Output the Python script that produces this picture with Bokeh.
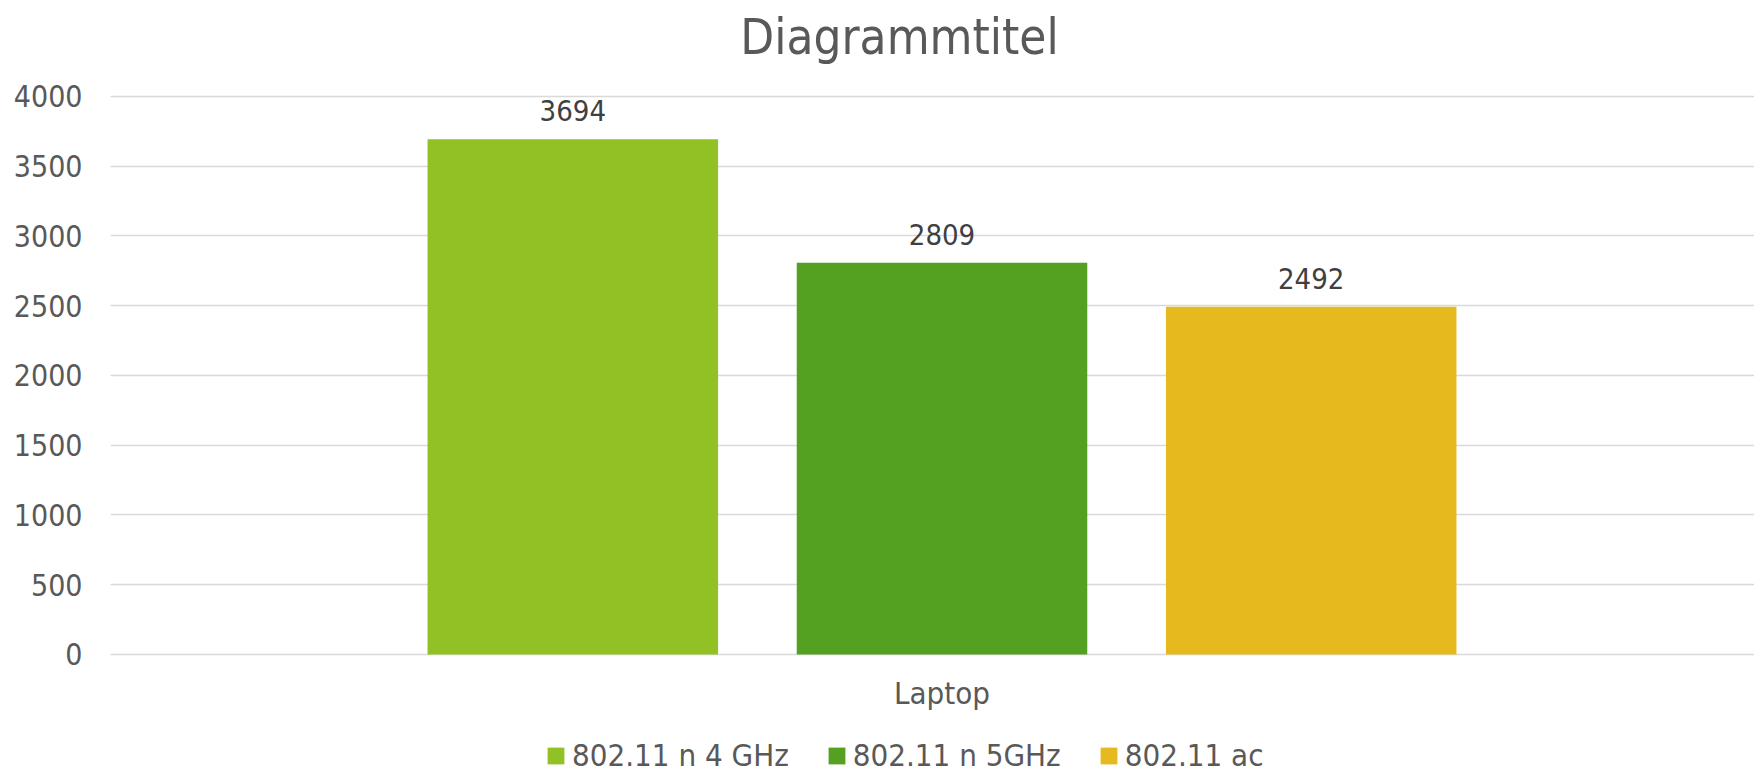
from bokeh.plotting import figure
from bokeh.models import (ColumnDataSource, Range1d, LabelSet, Label, Legend, LegendItem,
                          FixedTicker)
from bokeh.core.properties import value
from bokeh.transform import dodge
from bokeh.embed import file_html
from bokeh.resources import INLINE

# ---- data ----
categories = ["Laptop"]
series = ["802.11 n 4 GHz", "802.11 n 5GHz", "802.11 ac"]
values_n4 = [3694]
values_n5 = [2809]
values_ac = [2492]
y_ticks = [0, 500, 1000, 1500, 2000, 2500, 3000, 3500, 4000]
title_text = "Diagrammtitel"

# ---- style ----
colors = ["#92C125", "#54A122", "#E6B91E"]
FONT = "DejaVu Sans Condensed"
TXT = "#595959"
LBL = "#404040"
GRID = "#D9D9D9"

W, H = 1754, 773

src = ColumnDataSource(dict(
    x=list(range(len(categories))),
    cat=categories,
    zero=[0] * len(categories),
    n4=values_n4, n5=values_n5, ac=values_ac,
    n4_lbl=[str(v) for v in values_n4],
    n5_lbl=[str(v) for v in values_n5],
    ac_lbl=[str(v) for v in values_ac],
))

p = figure(width=W, height=H, output_backend="svg", toolbar_location=None,
           x_range=Range1d(-0.5, 0.48857), y_range=Range1d(-853.05, 4688.17),
           min_border_left=110, min_border_right=0,
           min_border_top=0, min_border_bottom=0)
p.outline_line_color = None
p.background_fill_color = "white"
p.border_fill_color = "white"

cols = ["n4", "n5", "ac"]
offsets = [-0.222, 0.0, 0.222]
bar_w = 0.1747
renderers = []
for col, off, c in zip(cols, offsets, colors):
    r = p.vbar(x=dodge("x", off, range=p.x_range), top=col, bottom=0, width=bar_w,
               fill_color=c, line_color=None, source=src)
    renderers.append(r)
    lab = LabelSet(x=dodge("x", off, range=p.x_range), y=col, text=col + "_lbl",
                   source=src, y_offset=18, text_align="center",
                   text_baseline="alphabetic", text_font=value(FONT),
                   text_font_size=value("29px"), text_color=LBL)
    p.add_layout(lab)

# category label under the group
cat_lab = LabelSet(x="x", y="zero", text="cat", source=src, y_offset=-50,
                   text_align="center", text_baseline="alphabetic",
                   text_font=value(FONT), text_font_size=value("31px"),
                   text_color=TXT)
p.add_layout(cat_lab)

# chart title
title = Label(x=789, x_units="screen", y=y_ticks[-1], y_offset=59,
              text=title_text, text_align="center", text_baseline="alphabetic",
              text_font=FONT, text_font_size="49px", text_color=TXT)
p.add_layout(title)

# axes
p.yaxis.ticker = FixedTicker(ticks=y_ticks)
p.yaxis.axis_line_color = None
p.yaxis.major_tick_line_color = None
p.yaxis.minor_tick_line_color = None
p.yaxis.major_tick_out = 0
p.yaxis.major_tick_in = 0
p.yaxis.major_label_standoff = 28
p.yaxis.major_label_text_font = FONT
p.yaxis.major_label_text_font_size = "30px"
p.yaxis.major_label_text_color = TXT
p.xaxis.visible = False

p.xgrid.visible = False
p.ygrid.ticker = FixedTicker(ticks=y_ticks)
p.ygrid.grid_line_color = GRID
p.ygrid.grid_line_width = 1.5

legend = Legend(items=[LegendItem(label=s, renderers=[r]) for s, r in zip(series, renderers)],
                orientation="horizontal", location=(435, 0),
                glyph_width=21, glyph_height=21, label_standoff=6, spacing=37,
                padding=0, margin=0, border_line_color=None,
                background_fill_alpha=0,
                label_text_font=FONT, label_text_font_size="31px",
                label_text_color=TXT)
p.add_layout(legend)

open("out.html", "w").write(file_html(p, INLINE))
